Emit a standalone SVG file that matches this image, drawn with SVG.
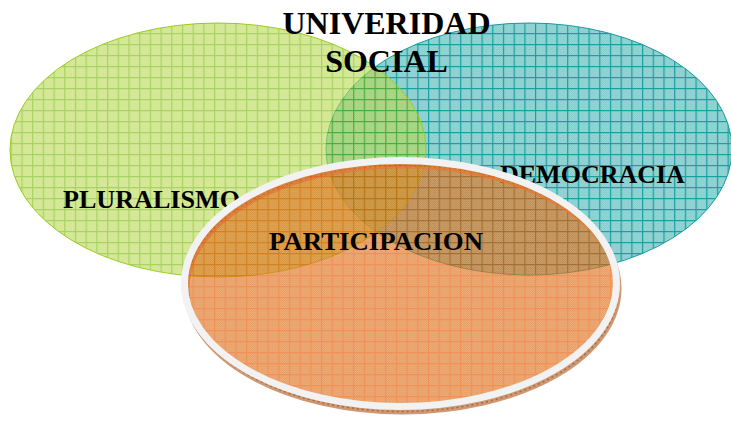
<svg xmlns="http://www.w3.org/2000/svg" width="731" height="422" viewBox="0 0 731 422">
  <style>
    .lbl { font-family: "Liberation Serif", "Times New Roman", serif; font-weight: bold; fill: #000; }
    .big { font-size: 32px; }
    .mid { font-size: 26px; }
  </style>
  <defs>
    <pattern id="dither" width="2" height="2" patternUnits="userSpaceOnUse">
      <rect x="0" y="0" width="1" height="1" fill="#ffffff" fill-opacity="0.18"/>
      <rect x="1" y="1" width="1" height="1" fill="#ffffff" fill-opacity="0.18"/>
    </pattern>
    <pattern id="gridGreen" width="10.7" height="11" patternUnits="userSpaceOnUse">
      <rect width="10.7" height="11" fill="#b1d53f"/>
      <rect width="10.7" height="11" fill="url(#dither)"/>
      <rect x="0" y="0" width="1.2" height="11" fill="#6eb400"/>
      <rect x="0" y="0" width="10.7" height="1.2" fill="#6eb400"/>
    </pattern>
    <pattern id="gridTeal" width="10.7" height="11" patternUnits="userSpaceOnUse">
      <rect width="10.7" height="11" fill="#84cdcd"/>
      <rect width="10.7" height="11" fill="url(#dither)"/>
      <rect x="0" y="0" width="1.2" height="11" fill="#1aa0a0"/>
      <rect x="0" y="0" width="10.7" height="1.2" fill="#1aa0a0"/>
    </pattern>
    <pattern id="gridOrange" width="10.7" height="11" patternUnits="userSpaceOnUse">
      <rect width="10.7" height="11" fill="#dc6a10"/>
      <rect width="10.7" height="11" fill="url(#dither)"/>
      <rect x="0" y="0" width="1.2" height="11" fill="#ec5800"/>
      <rect x="0" y="0" width="10.7" height="1.2" fill="#ec5800"/>
    </pattern>
  </defs>

  <rect width="731" height="422" fill="#ffffff"/>

  <g id="democracia">
    <ellipse cx="529" cy="149" rx="203" ry="126" fill="url(#gridTeal)" stroke="#1a9b9b" stroke-width="1"/>
  </g>

  <g id="pluralismo">
    <ellipse cx="218" cy="150" rx="208" ry="127" fill="url(#gridGreen)" opacity="0.6"/>
    <ellipse cx="218" cy="150" rx="208" ry="127" fill="none" stroke="#9acb1e" stroke-width="1"/>
  </g>

  <g id="labels-back">
    <text class="lbl mid" x="63" y="208" textLength="177" lengthAdjust="spacingAndGlyphs">PLURALISMO</text>
    <text class="lbl mid" x="500" y="183">DEMOCRACIA</text>
  </g>

  <g id="participacion">
    <ellipse cx="402.5" cy="288.5" rx="216" ry="123" fill="none" stroke="#cd9872" stroke-width="6"/>
    <ellipse cx="402.5" cy="288.5" rx="216" ry="123" fill="none" stroke="#a66a44" stroke-width="1.5" stroke-dasharray="2 3"/>
    <ellipse cx="400.5" cy="283.5" rx="216" ry="123" fill="url(#gridOrange)" opacity="0.66"/>
    <ellipse cx="400.5" cy="283.5" rx="216" ry="123" fill="none" stroke="#f2f2f2" stroke-width="7"/>
    <text class="lbl mid" x="269" y="250" textLength="214" lengthAdjust="spacingAndGlyphs">PARTICIPACION</text>
  </g>

  <g id="titulo">
    <text class="lbl big" x="386.5" y="34" text-anchor="middle">UNIVERIDAD</text>
    <text class="lbl big" x="386.5" y="72" text-anchor="middle">SOCIAL</text>
  </g>

  <g id="connectors"></g>
</svg>
